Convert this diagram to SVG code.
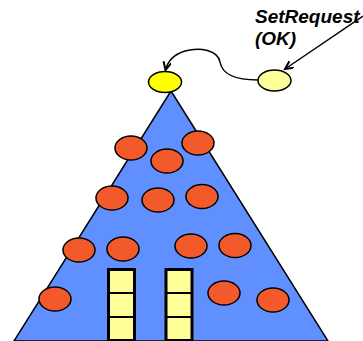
<svg xmlns="http://www.w3.org/2000/svg" width="363" height="341" viewBox="0 0 363 341">
<style>
.red{fill:#F25A2B;stroke:#000;stroke-width:1.5}
.win{fill:#FFFF99;stroke:#000;stroke-width:3}
.div{stroke:#000;stroke-width:2}
.conn{fill:none;stroke:#000;stroke-width:1.5}
.lbl{font-family:"Liberation Sans",Arial,sans-serif;font-size:19px;font-weight:bold;font-style:italic;fill:#000}
</style>
<defs>
<marker id="ah" markerWidth="12" markerHeight="10" refX="9" refY="4" orient="auto" markerUnits="userSpaceOnUse">
<path d="M1,0 L9,4 L1,8" fill="none" stroke="#000" stroke-width="2"/>
</marker>
</defs>
<rect width="363" height="341" fill="#fff"/>
<g id="pyramid">
<polygon points="171,91 14,341 328,341" fill="#6090FF" stroke="#000" stroke-width="1.5"/>
</g>
<g id="windows">
<rect class="win" x="108.5" y="269.5" width="26" height="71"/>
<line class="div" x1="108.5" y1="293" x2="134.5" y2="293"/>
<line class="div" x1="108.5" y1="317" x2="134.5" y2="317"/>
<rect class="win" x="166" y="269.5" width="26" height="71"/>
<line class="div" x1="166" y1="293" x2="192" y2="293"/>
<line class="div" x1="166" y1="317" x2="192" y2="317"/>
</g>
<g id="objects">
<ellipse class="red" cx="131" cy="148" rx="16" ry="12"/>
<ellipse class="red" cx="167" cy="161" rx="16" ry="12"/>
<ellipse class="red" cx="198" cy="143" rx="16" ry="12"/>
<ellipse class="red" cx="112" cy="198" rx="16" ry="12"/>
<ellipse class="red" cx="158" cy="200" rx="16" ry="12"/>
<ellipse class="red" cx="202" cy="196.5" rx="16" ry="12"/>
<ellipse class="red" cx="79" cy="250" rx="16" ry="12"/>
<ellipse class="red" cx="123" cy="249" rx="16" ry="12"/>
<ellipse class="red" cx="191" cy="246" rx="16" ry="12"/>
<ellipse class="red" cx="235" cy="245.5" rx="16" ry="12"/>
<ellipse class="red" cx="55" cy="299" rx="16" ry="12"/>
<ellipse class="red" cx="224" cy="293" rx="16" ry="12"/>
<ellipse class="red" cx="273" cy="300" rx="16" ry="12"/>
</g>
<g id="root">
<ellipse cx="165" cy="82" rx="16.5" ry="10.5" fill="#FFFF00" stroke="#000" stroke-width="1.5"/>
</g>
<g id="request">
<ellipse cx="274.5" cy="80.5" rx="16.5" ry="10.5" fill="#FFFF99" stroke="#000" stroke-width="1.5"/>
</g>
<g id="label">
<text class="lbl" x="255" y="23">SetRequest</text>
<text class="lbl" x="255" y="45">(OK)</text>
</g>
<g id="connectors">
<line class="conn" x1="363" y1="16" x2="285" y2="69" marker-end="url(#ah)"/>
<path class="conn" d="M258,80 C236,80 222,74 220,62 C218,50 200,47 185,51 C175,54 168,60 165.5,70" marker-end="url(#ah)"/>
</g>
</svg>
